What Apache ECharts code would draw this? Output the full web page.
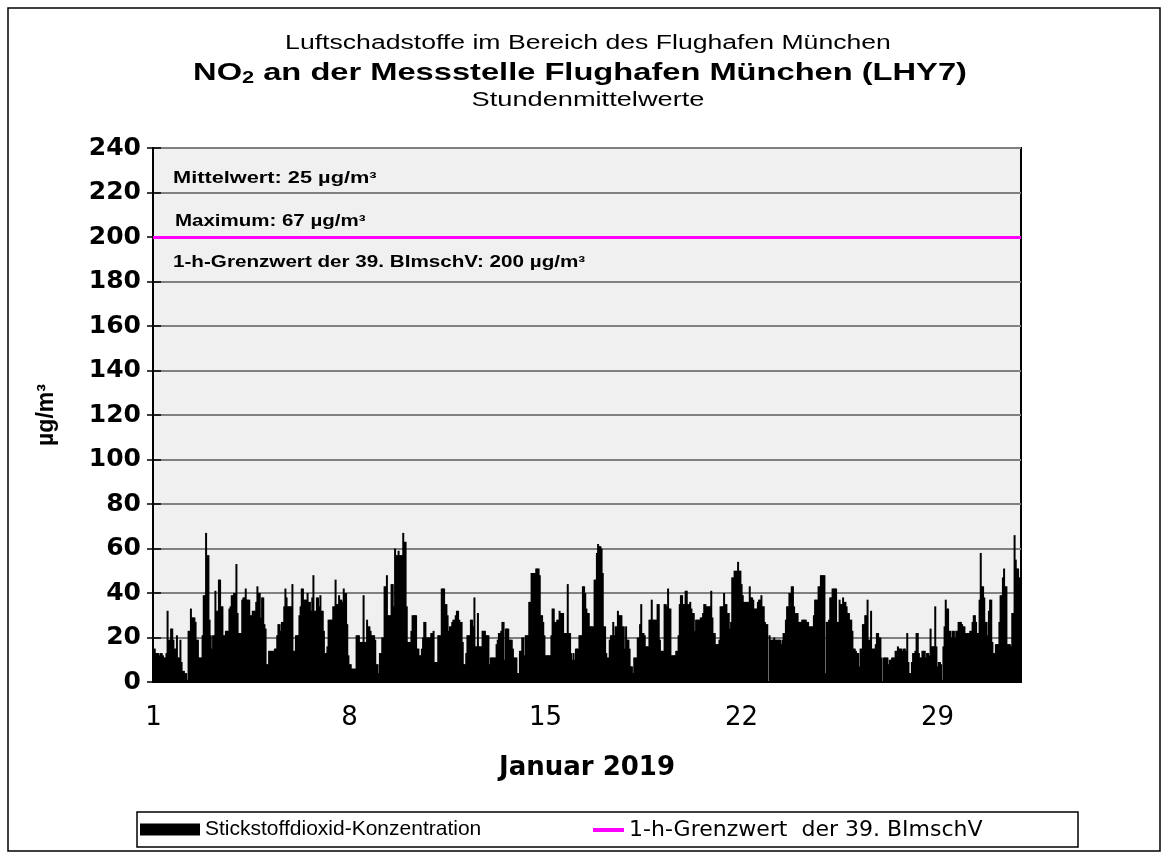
<!DOCTYPE html>
<html>
<head>
<meta charset="utf-8">
<script src="https://cdn.jsdelivr.net/npm/echarts@6/dist/echarts.min.js"></script>
<style>
html,body{margin:0;padding:0;background:#fff;overflow:hidden}
#chart{width:1168px;height:854px}
</style>
</head>
<body>
<div id="chart"></div>
<script>
// ---- data (hourly NO2 means, µg/m³) ----
const days = [1,2,3,4,5,6,7,8,9,10,11,12,13,14,15,16,17,18,19,20,21,22,23,24,25,26,27,28,29,30,31];
const hours = [0,1,2,3,4,5,6,7,8,9,10,11,12,13,14,15,16,17,18,19,20,21,22,23];
const dayLabelEvery = 7; // labels 1, 8, 15, 22, 29
const jan01 = [15,15,13,13,13,12,13,13,12,11,11,13,32,19,19,24,24,19,15,15,21,11,11,19];
const jan02 = [9,5,5,4,4,1,23,23,33,29,29,29,27,19,19,11,11,11,21,39,39,67,57,57];
const jan03 = [28,21,15,21,21,41,32,32,46,46,34,34,21,21,23,23,23,33,34,39,39,40,40,53];
const jan04 = [31,22,22,22,37,38,38,42,37,37,37,30,30,32,32,32,36,43,40,40,29,38,38,26];
const jan05 = [24,8,8,14,14,14,14,14,15,15,21,26,26,23,27,27,34,42,38,34,34,34,34,44];
const jan06 = [14,14,21,21,21,30,34,42,42,37,37,37,40,36,36,32,38,48,32,32,38,38,34,39];
const jan07 = [32,32,23,13,13,16,28,28,28,28,34,34,46,35,35,39,37,37,36,42,40,40,26,12];
const jan08 = [8,8,6,6,6,6,21,21,21,18,18,18,39,18,18,28,25,25,23,21,21,21,19,8];
const jan09 = [8,4,13,13,20,20,43,43,48,30,30,30,44,44,34,60,57,57,59,57,57,57,67,63];
const jan10 = [63,34,18,18,18,23,30,30,30,30,15,15,12,12,15,20,27,27,20,20,20,20,22,22];
const jan11 = [23,9,9,9,21,21,21,42,42,42,35,35,30,23,25,25,27,28,28,30,32,32,28,27];
const jan12 = [27,18,8,8,13,21,21,21,28,28,25,38,16,16,31,16,16,16,23,23,23,21,21,21];
const jan13 = [8,11,11,11,11,11,17,19,22,22,23,27,27,10,24,24,24,19,19,19,15,11,11,11];
const jan14 = [4,4,14,14,20,20,12,21,21,21,36,36,49,49,49,49,51,51,51,48,30,30,27,21];
const jan15 = [12,12,12,12,12,21,33,33,27,27,28,28,32,31,31,31,22,22,22,44,22,22,13,10];
const jan16 = [13,10,15,15,15,21,21,21,43,43,40,33,31,31,25,25,25,25,46,46,58,62,61,61];
const jan17 = [60,49,25,25,13,11,11,19,21,21,27,21,25,25,32,30,30,30,25,25,15,25,19,19];
const jan18 = [15,7,7,4,11,11,11,20,20,26,35,22,22,21,16,16,16,28,28,37,28,28,28,28];
const jan19 = [35,35,19,14,14,14,35,35,34,42,33,33,12,12,12,12,14,14,21,35,39,39,35,35];
const jan20 = [41,41,35,35,36,33,31,31,23,28,28,28,28,29,29,31,35,35,34,34,34,34,41,29];
const jan21 = [22,22,17,17,17,19,34,34,34,40,35,35,31,31,24,27,47,47,50,50,50,54,50,50];
const jan22 = [44,39,36,36,36,36,36,43,38,38,37,33,33,33,36,37,37,39,34,34,27,26,26,null];
const jan23 = [21,19,19,19,20,19,19,19,19,19,17,19,22,22,28,34,34,40,40,43,43,34,31,31];
const jan24 = [31,27,27,27,28,28,28,28,27,27,25,25,25,25,30,37,37,37,43,43,48,48,48,48];
const jan25 = [4,27,27,28,38,38,42,42,42,42,27,27,37,35,35,38,36,36,34,31,31,28,28,23];
const jan26 = [15,15,14,13,13,7,15,15,26,26,30,30,37,19,19,32,15,15,15,17,22,22,20,20];
const jan27 = [11,null,11,11,11,11,8,10,10,11,11,11,14,14,16,15,15,15,14,15,15,14,22,9];
const jan28 = [4,4,9,13,13,14,22,22,13,11,11,14,14,14,11,13,13,12,24,16,16,16,34,16];
const jan29 = [7,9,9,8,1,16,25,37,33,33,23,23,20,23,23,20,23,23,27,27,27,26,25,25];
const jan30 = [22,22,22,22,23,23,27,30,30,27,22,22,37,58,43,43,38,27,27,21,32,37,37,18];
const jan31 = [13,13,17,17,17,27,39,39,47,51,43,43,17,17,17,16,31,31,66,55,51,51,47,47];
const yMin = 0, yMax = 240, yStep = 20;
const limitValue = 200;   // 1-h-Grenzwert der 39. BImSchV
const meanValue = 25;
const maxValue = 67;

const seriesBarName = 'Stickstoffdioxid-Konzentration';
const seriesLimitName = '1-h-Grenzwert  der 39. BImschV';

const no2 = [].concat(jan01,jan02,jan03,jan04,jan05,jan06,jan07,jan08,jan09,jan10,
  jan11,jan12,jan13,jan14,jan15,jan16,jan17,jan18,jan19,jan20,jan21,jan22,jan23,
  jan24,jan25,jan26,jan27,jan28,jan29,jan30,jan31);
const categories = [];
days.forEach(d => hours.forEach(h => categories.push(d + '.01.2019 ' + h + ':00')));
const perDay = hours.length;

const FONT = '"Liberation Sans", Arial, sans-serif';
const WIDE = '"DejaVu Sans", "Liberation Sans", sans-serif';
const chart = echarts.init(document.getElementById('chart'));

function txt(x, y, text, size, weight, sx, align) {
  return {
    type: 'text', x: x, y: y, scaleX: sx, z: 100,
    style: { text: text, fontSize: size, fontWeight: weight, fontFamily: FONT,
      fill: '#000', align: align || 'center', verticalAlign: 'middle' }
  };
}

chart.setOption({
  animation: false,
  backgroundColor: '#ffffff',
  grid: { left: 153, right: 147, top: 148, bottom: 172, show: true,
    backgroundColor: '#f0f0f0', borderColor: '#000', borderWidth: 2, containLabel: false },
  legend: [
    { data: [seriesBarName], left: 140, top: 819, padding: 0, itemWidth: 60, itemHeight: 12, icon: 'rect',
      selectedMode: false, textStyle: { fontSize: 21, fontFamily: FONT, color: '#000' } },
    { data: [seriesLimitName], left: 593, top: 819, padding: 0, itemWidth: 31, itemHeight: 4, icon: 'rect',
      selectedMode: false, textStyle: { fontSize: 22, fontFamily: WIDE, color: '#000' } }
  ],
  xAxis: {
    type: 'category', data: categories, boundaryGap: true,
    axisLine: { lineStyle: { color: '#000', width: 2 } },
    axisTick: { interval: (i) => i % perDay === 0, length: 8, lineStyle: { color: '#000', width: 1.5 } },
    axisLabel: { interval: (i) => i % (perDay * dayLabelEvery) === 0,
      formatter: (v) => v.split('.')[0], fontSize: 26, margin: 23, color: '#000', fontFamily: WIDE },
    splitLine: { show: false },
    name: 'Januar 2019', nameLocation: 'middle', nameGap: 73,
    nameTextStyle: { fontSize: 26, fontWeight: 'bold', color: '#000', fontFamily: WIDE }
  },
  yAxis: [
    { type: 'value', min: yMin, max: yMax, interval: yStep,
      axisLine: { show: true, lineStyle: { color: '#000', width: 2 } },
      axisTick: { show: true, length: 6, lineStyle: { color: '#000', width: 1.5 } },
      axisLabel: { fontSize: 25, fontWeight: 'bold', color: '#000', margin: 12, fontFamily: WIDE },
      splitLine: { show: true, lineStyle: { color: '#808080', width: 2 } },
      name: 'µg/m³', nameLocation: 'middle', nameGap: 95,
      nameTextStyle: { fontSize: 23, fontWeight: 'bold', color: '#000', fontFamily: FONT } },
    { type: 'value', min: yMin, max: yMax, interval: yStep, position: 'left',
      axisLine: { show: false },
      axisTick: { show: true, inside: true, length: 8, lineStyle: { color: '#000', width: 1.5 } },
      axisLabel: { show: false }, splitLine: { show: false } }
  ],
  series: [
    { name: seriesBarName, type: 'bar', data: no2, barWidth: 2, barGap: '0%',
      itemStyle: { color: '#000' }, silent: true },
    { name: seriesLimitName, type: 'line', data: [], itemStyle: { color: '#ff00ff' },
      lineStyle: { color: '#ff00ff', width: 3 }, showSymbol: false,
      markLine: { silent: true, symbol: 'none', label: { show: false },
        lineStyle: { color: '#ff00ff', width: 3, type: 'solid' },
        data: [{ yAxis: limitValue }] } }
  ],
  graphic: [
    { type: 'rect', shape: { x: 8, y: 8, width: 1152, height: 843 },
      style: { fill: 'none', stroke: '#000', lineWidth: 1.5 }, silent: true },
    { type: 'rect', shape: { x: 137, y: 812, width: 941, height: 35 },
      style: { fill: 'none', stroke: '#000', lineWidth: 1.5 }, silent: true },
    txt(588, 43, 'Luftschadstoffe im Bereich des Flughafen München', 20, 'normal', 1.33),
    { type: 'text', x: 580, y: 73, scaleX: 1.36, z: 100,
      style: { text: '{b|NO}{s|2}{b| an der Messstelle Flughafen München (LHY7)}',
        align: 'center', verticalAlign: 'middle',
        rich: {
          b: { fontSize: 24, fontWeight: 'bold', fontFamily: FONT, fill: '#000', lineHeight: 28 },
          s: { fontSize: 16, fontWeight: 'bold', fontFamily: FONT, fill: '#000', padding: [12, 0, 0, 0] }
        } } },
    txt(588, 100, 'Stundenmittelwerte', 20, 'normal', 1.36),
    txt(173, 178.5, 'Mittelwert: ' + meanValue + ' µg/m³', 16, 'bold', 1.36, 'left'),
    txt(175, 222, 'Maximum: ' + maxValue + ' µg/m³', 16, 'bold', 1.28, 'left'),
    txt(173, 263, '1-h-Grenzwert der 39. BImschV: ' + limitValue + ' µg/m³', 16, 'bold', 1.29, 'left')
  ]
});
</script>
</body>
</html>
